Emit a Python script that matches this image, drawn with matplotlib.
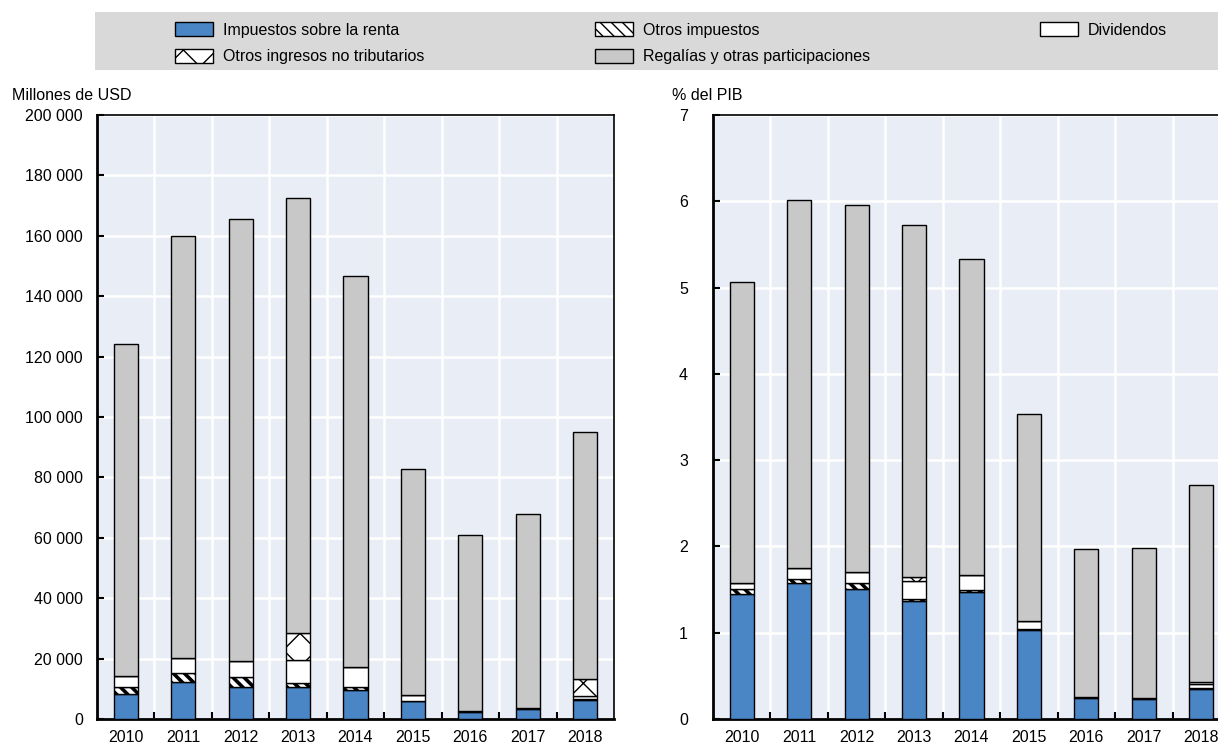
import matplotlib
matplotlib.use("Agg")
import matplotlib.pyplot as plt
import matplotlib.patches as mpatches
from matplotlib.ticker import FuncFormatter, MultipleLocator
import numpy as np

plt.rcParams['font.family'] = ['Liberation Sans Narrow', 'Liberation Sans', 'DejaVu Sans']

years = ["2010", "2011", "2012", "2013", "2014", "2015", "2016", "2017", "2018"]

# Left panel: millions of USD
usd_renta = [8300, 12400, 10700, 10700, 9600, 5800, 2200, 3200, 6300]
usd_otros_imp = [2200, 2700, 3300, 1300, 900, 200, 300, 300, 300]
usd_dividendos = [3800, 5000, 5300, 7500, 6600, 1800, 0, 0, 1000]
usd_no_trib = [0, 0, 0, 8900, 0, 0, 0, 0, 5500]
usd_total = [124200, 160000, 165700, 172600, 146600, 82700, 61000, 68000, 95000]

# Right panel: % of GDP
pib_renta = [1.445, 1.572, 1.503, 1.367, 1.475, 1.031, 0.24, 0.235, 0.344]
pib_otros_imp = [0.061, 0.048, 0.069, 0.02, 0.02, 0.01, 0.01, 0.01, 0.02]
pib_dividendos = [0.074, 0.126, 0.128, 0.213, 0.175, 0.095, 0.0, 0.0, 0.04]
pib_no_trib = [0.0, 0.0, 0.0, 0.05, 0.0, 0.0, 0.0, 0.0, 0.03]
pib_total = [5.07, 6.02, 5.96, 5.72, 5.33, 3.54, 1.97, 1.98, 2.71]

labels = ["Impuestos sobre la renta", "Otros impuestos", "Dividendos",
          "Otros ingresos no tributarios", "Regalías y otras participaciones"]

BLUE = "#4A86C6"
GRAY = "#C8C8C8"
BG = "#E9EDF5"

W, H = 1218, 744
fig = plt.figure(figsize=(W / 100, H / 100), dpi=100)


def ax_rect(x0, y0, x1, y1):
    return [x0 / W, 1 - y1 / H, (x1 - x0) / W, (y1 - y0) / H]


def draw(ax, renta, otros, divs, notrib, total, ypad):
    x = np.arange(len(years))
    renta = np.array(renta, float)
    otros = np.array(otros, float)
    divs = np.array(divs, float)
    notrib = np.array(notrib, float)
    total = np.array(total, float)
    regal = total - renta - otros - divs - notrib
    w = 0.42
    kw = dict(width=w, edgecolor="black", linewidth=1.0, zorder=3)
    handles = []
    b = np.zeros(len(x))
    handles.append(ax.bar(x, renta, bottom=b, color=BLUE, label=labels[0], **kw))
    b = b + renta
    with plt.rc_context({'hatch.linewidth': 2.6}):
        handles.append(ax.bar(x, otros, bottom=b, color="white", hatch="\\\\\\", label=labels[1], **kw))
    b = b + otros
    handles.append(ax.bar(x, divs, bottom=b, color="white", label=labels[2], **kw))
    b = b + divs
    with plt.rc_context({'hatch.linewidth': 1.0}):
        handles.append(ax.bar(x, notrib, bottom=b, color="white", hatch="x", label=labels[3], **kw))
    b = b + notrib
    handles.append(ax.bar(x, regal, bottom=b, color=GRAY, label=labels[4], **kw))
    ax.set_facecolor(BG)
    ax.set_xlim(-0.5, len(years) - 0.5)
    ax.set_xticks(x)
    ax.set_xticklabels(years, fontsize=11.5)
    ax.set_xticks(np.arange(0.5, len(years) - 0.5, 1), minor=True)
    ax.tick_params(axis="x", which="major", length=0, pad=8)
    ax.tick_params(axis="x", which="minor", direction="in", length=5, width=1.5, color="black")
    ax.tick_params(axis="y", direction="in", length=5, width=1.5, labelsize=11.5, pad=ypad)
    ax.grid(axis="x", which="minor", color="white", linewidth=1.8, zorder=0)
    ax.grid(axis="y", which="major", color="white", linewidth=1.8, zorder=0)
    ax.set_axisbelow(True)
    for s in ax.spines.values():
        s.set_color("black")
        s.set_linewidth(1.2)
    ax.spines["left"].set_linewidth(2.0)
    ax.spines["bottom"].set_linewidth(2.0)
    return handles


axL = fig.add_axes(ax_rect(97, 115, 614, 719))
hL = draw(axL, usd_renta, usd_otros_imp, usd_dividendos, usd_no_trib, usd_total, 10)
axL.set_ylim(0, 200000)
axL.yaxis.set_major_locator(MultipleLocator(20000))
axL.yaxis.set_major_formatter(FuncFormatter(lambda v, p: f"{int(v):,}".replace(",", " ")))

axR = fig.add_axes(ax_rect(713, 115, 1230, 719))
draw(axR, pib_renta, pib_otros_imp, pib_dividendos, pib_no_trib, pib_total, 18)
axR.set_ylim(0, 7)
axR.yaxis.set_major_locator(MultipleLocator(1))
axR.yaxis.set_major_formatter(FuncFormatter(lambda v, p: f"{int(v)}"))

fig.text(12 / W, 1 - 95 / H, "Millones de USD", fontsize=11.5, va="center", ha="left")
fig.text(672 / W, 1 - 95 / H, "% del PIB", fontsize=11.5, va="center", ha="left")

# Legend background
fig.patches.append(mpatches.Rectangle((95 / W, 1 - 70 / H), (W - 95) / W, 58 / H,
                                      transform=fig.transFigure, facecolor="#D9D9D9",
                                      edgecolor="none", zorder=0))

leg_kw = dict(frameon=False, fontsize=11.5, handlelength=2.4, handleheight=1.0,
              handletextpad=0.6, labelspacing=0.7, loc="upper left", borderaxespad=0,
              borderpad=0)
l1 = fig.legend([hL[0], hL[3]], [labels[0], labels[3]], bbox_to_anchor=(175 / W, 1 - 22 / H), **leg_kw)
l2 = fig.legend([hL[1], hL[4]], [labels[1], labels[4]], bbox_to_anchor=(595 / W, 1 - 22 / H), **leg_kw)
l3 = fig.legend([hL[2]], [labels[2]], bbox_to_anchor=(1040 / W, 1 - 22 / H), **leg_kw)

fig.savefig("out.png", dpi=100)
